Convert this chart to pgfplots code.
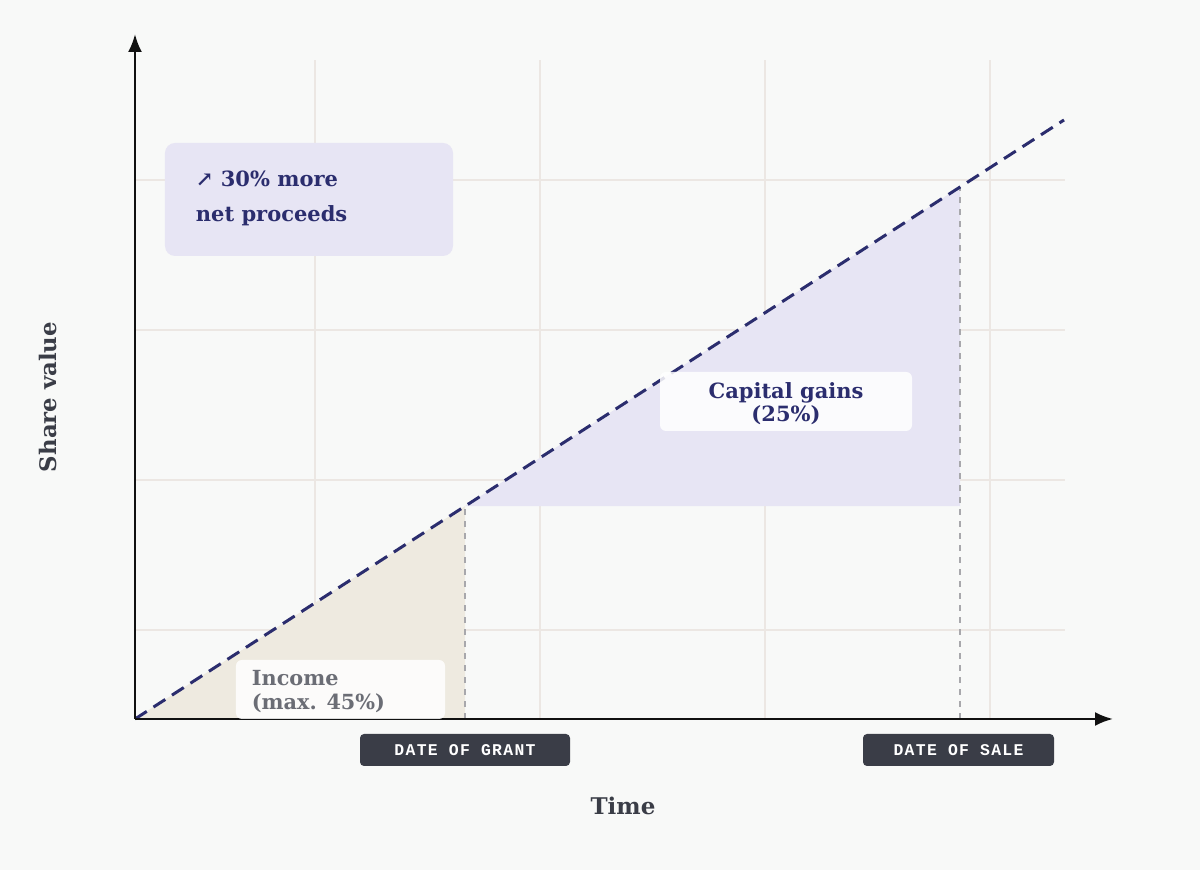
\documentclass[border=0pt]{standalone}
\usepackage{pgfplots}
\pgfplotsset{compat=1.18}
\usepackage{fontspec}
\setmainfont{DejaVu Serif}
\newfontfamily\monofont[LetterSpace=8]{Liberation Mono}
\usetikzlibrary{arrows.meta}
\definecolor{bg}{HTML}{F8F9F8}
\definecolor{navy}{HTML}{2B2D6E}
\definecolor{gtext}{HTML}{6B6D75}
\definecolor{darkbox}{HTML}{3A3D47}
\definecolor{lav}{HTML}{E7E5F4}
\definecolor{beige}{HTML}{EEEAE0}
\definecolor{gridc}{HTML}{ECE7E3}
\definecolor{vdash}{HTML}{A8A8AC}
\definecolor{axc}{HTML}{111111}
\begin{document}
\begin{tikzpicture}
\path[use as bounding box, fill=bg] (-67.5pt,-75.5pt) rectangle (532.5pt,359.5pt);
\begin{axis}[
  at={(0pt,0pt)}, anchor=south west,
  scale only axis, x=0.5pt, y=0.5pt,
  xmin=0, xmax=930, ymin=0, ymax=659,
  clip=false,
  axis line style={draw=none},
  xtick={180,405,630,855}, ytick={89,239,389,539},
  xticklabels={}, yticklabels={},
  major tick length=0pt,
  grid=major,
  major grid style={color=gridc, line width=1pt},
]
% shaded regions
\addplot[fill=beige, draw=none] coordinates {(0,0) (330,212.8) (330,0)} -- cycle;
\addplot[fill=lav, draw=none] coordinates {(330,212.8) (825,532) (825,212.8)} -- cycle;
% vertical dashed markers
\addplot[vdash, line width=0.8pt, dash pattern=on 3pt off 3pt] coordinates {(330,0) (330,212.8)};
\addplot[vdash, line width=0.8pt, dash pattern=on 3pt off 3pt] coordinates {(825,0) (825,532)};
% share value line
\addplot[navy, line width=1.5pt, dash pattern=on 7pt off 4pt] coordinates {(0,0) (929,599)};
% axes
\draw[axc, line width=1.25pt, -{Latex[length=9pt,width=7pt]}] (axis cs:0,0) -- (axis cs:978,0);
\draw[axc, line width=1.25pt, -{Latex[length=9pt,width=7pt]}] (axis cs:0,0) -- (axis cs:0,685);
% annotation box
\fill[lav, rounded corners=5pt] (axis cs:30,463) rectangle (axis cs:318,576);
\node[anchor=base west, inner sep=0pt, navy, font=\fontsize{10.5pt}{12pt}\selectfont\bfseries] at (axis cs:60.5,532) {↗ 30\% more};
\node[anchor=base west, inner sep=0pt, navy, font=\fontsize{10.5pt}{12pt}\selectfont\bfseries] at (axis cs:60.5,497) {net proceeds};
% capital gains label
\fill[white, fill opacity=0.85, rounded corners=3pt] (axis cs:525,288) rectangle (axis cs:777,347);
\node[anchor=base, inner sep=0pt, navy, font=\fontsize{10.5pt}{12pt}\selectfont\bfseries] at (axis cs:651,320) {Capital gains};
\node[anchor=base, inner sep=0pt, navy, font=\fontsize{10.5pt}{12pt}\selectfont\bfseries] at (axis cs:651,297) {(25\%)};
% income label
\fill[white, fill opacity=0.85, rounded corners=3pt] (axis cs:101,0) rectangle (axis cs:310,59);
\node[anchor=base west, inner sep=0pt, gtext, font=\fontsize{10.4pt}{12pt}\selectfont\bfseries] at (axis cs:116.5,33.3) {Income};
\node[anchor=base west, inner sep=0pt, gtext, font=\fontsize{10.4pt}{12pt}\selectfont\bfseries] at (axis cs:116.5,9) {(max. 45\%)};
% date boxes
\node[fill=darkbox, rounded corners=2pt, minimum width=105pt, minimum height=16pt, inner sep=0pt, text=white, font=\monofont\fontsize{8.2pt}{9pt}\selectfont\bfseries] at (axis cs:330,-31) {DATE OF GRANT};
\node[fill=darkbox, rounded corners=2pt, minimum width=95.5pt, minimum height=16pt, inner sep=0pt, text=white, font=\monofont\fontsize{8.2pt}{9pt}\selectfont\bfseries] at (axis cs:823.5,-31) {DATE OF SALE};
% axis titles
\node[anchor=base, inner sep=0pt, darkbox, font=\fontsize{11.5pt}{13pt}\selectfont\bfseries] at (axis cs:488,-96) {Time};
\node[anchor=base, inner sep=0pt, darkbox, rotate=90, font=\fontsize{11.4pt}{13pt}\selectfont\bfseries] at (axis cs:-78,322) {Share value};
\end{axis}
\end{tikzpicture}
\end{document}
